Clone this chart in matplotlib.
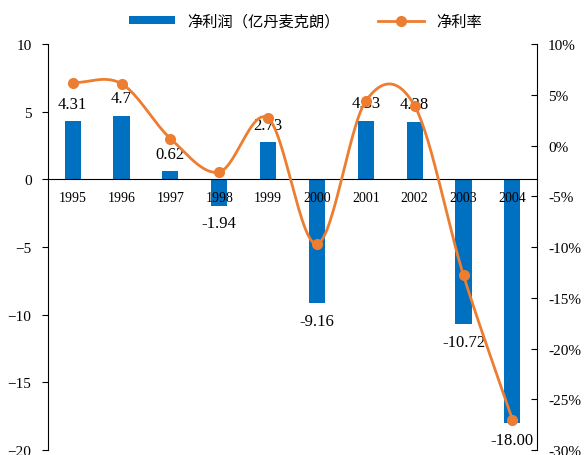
import numpy as np
import matplotlib.pyplot as plt
from matplotlib.ticker import FuncFormatter

years = ['1995', '1996', '1997', '1998', '1999', '2000', '2001', '2002', '2003', '2004']
profit = [4.31, 4.7, 0.62, -1.94, 2.73, -9.16, 4.33, 4.28, -10.72, -18.00]
profit_labels = ['4.31', '4.7', '0.62', '-1.94', '2.73', '-9.16', '4.33', '4.28', '-10.72', '-18.00']
margin = [6.2, 6.1, 0.7, -2.6, 2.7, -9.7, 4.4, 3.9, -12.8, -27.0]

BLUE = '#0070C0'
ORANGE = '#ED7D31'
CJK = ['Noto Sans CJK SC', 'DejaVu Sans']

plt.rcParams['font.family'] = ['Liberation Serif', 'DejaVu Serif']


def catmull_rom(x, y, n=30):
    # smooth curve through the points, like a spreadsheet "smoothed line"
    x = np.asarray(x, float)
    y = np.asarray(y, float)
    px = np.concatenate([[2 * x[0] - x[1]], x, [2 * x[-1] - x[-2]]])
    py = np.concatenate([[2 * y[0] - y[1]], y, [2 * y[-1] - y[-2]]])
    xs, ys = [], []
    t = np.linspace(0, 1, n)
    for i in range(1, len(px) - 2):
        for p, out in ((px, xs), (py, ys)):
            p0, p1, p2, p3 = p[i - 1], p[i], p[i + 1], p[i + 2]
            out.extend(0.5 * (2 * p1 + (-p0 + p2) * t
                              + (2 * p0 - 5 * p1 + 4 * p2 - p3) * t ** 2
                              + (-p0 + 3 * p1 - 3 * p2 + p3) * t ** 3))
    return np.array(xs), np.array(ys)


def main():
    fig = plt.figure(figsize=(5.88, 4.56), dpi=100)
    ax = fig.add_axes([0.082, 0.011, 0.831, 0.890])
    x = np.arange(len(years))

    bars = ax.bar(x, profit, width=0.33, color=BLUE, zorder=2)
    ax.set_axisbelow(False)  # year labels on top of the bars
    ax.set_ylim(-20, 10)
    ax.set_xlim(-0.5, len(years) - 0.5)
    ax.set_yticks(range(-20, 11, 5))
    ax.set_xticks(x)
    ax.set_xticklabels(years, fontsize=11)
    ax.spines['bottom'].set_position(('data', 0))
    ax.spines['top'].set_visible(False)
    ax.spines['right'].set_visible(False)
    ax.tick_params(axis='x', length=0, pad=8)
    ax.tick_params(axis='y', direction='out', length=4, labelsize=11, pad=8)

    for xi, v, s in zip(x, profit, profit_labels):
        off = 12.5 if v >= 0 else -12.5
        ax.annotate(s, (xi, v), xytext=(0, off), textcoords='offset points',
                    ha='center', va='center', fontsize=12, zorder=5)

    ax2 = ax.twinx()
    ax2.set_ylim(-30, 10)
    ax2.set_yticks(range(-30, 11, 5))
    ax2.yaxis.set_major_formatter(FuncFormatter(lambda v, p: f'{v:.0f}%'))
    for sp in ['top', 'bottom', 'left']:
        ax2.spines[sp].set_visible(False)
    ax2.tick_params(axis='y', direction='in', length=4, labelsize=11, pad=8)

    sx, sy = catmull_rom(x, margin)
    ax2.plot(sx, sy, color=ORANGE, lw=2, zorder=3)
    ax2.plot(x, margin, 'o', color=ORANGE, ms=7, zorder=4)
    line_handle = plt.Line2D([], [], color=ORANGE, lw=2, marker='o', ms=7)

    fig.legend([bars, line_handle], ['净利润（亿丹麦克朗）', '净利率'],
               loc='upper center', bbox_to_anchor=(0.52, 1.0), ncol=2, frameon=False,
               prop={'family': CJK, 'size': 11}, handlelength=3, handleheight=0.4,
               columnspacing=2.5)

    fig.savefig('out.png', dpi=100)


if __name__ == '__main__':
    main()
